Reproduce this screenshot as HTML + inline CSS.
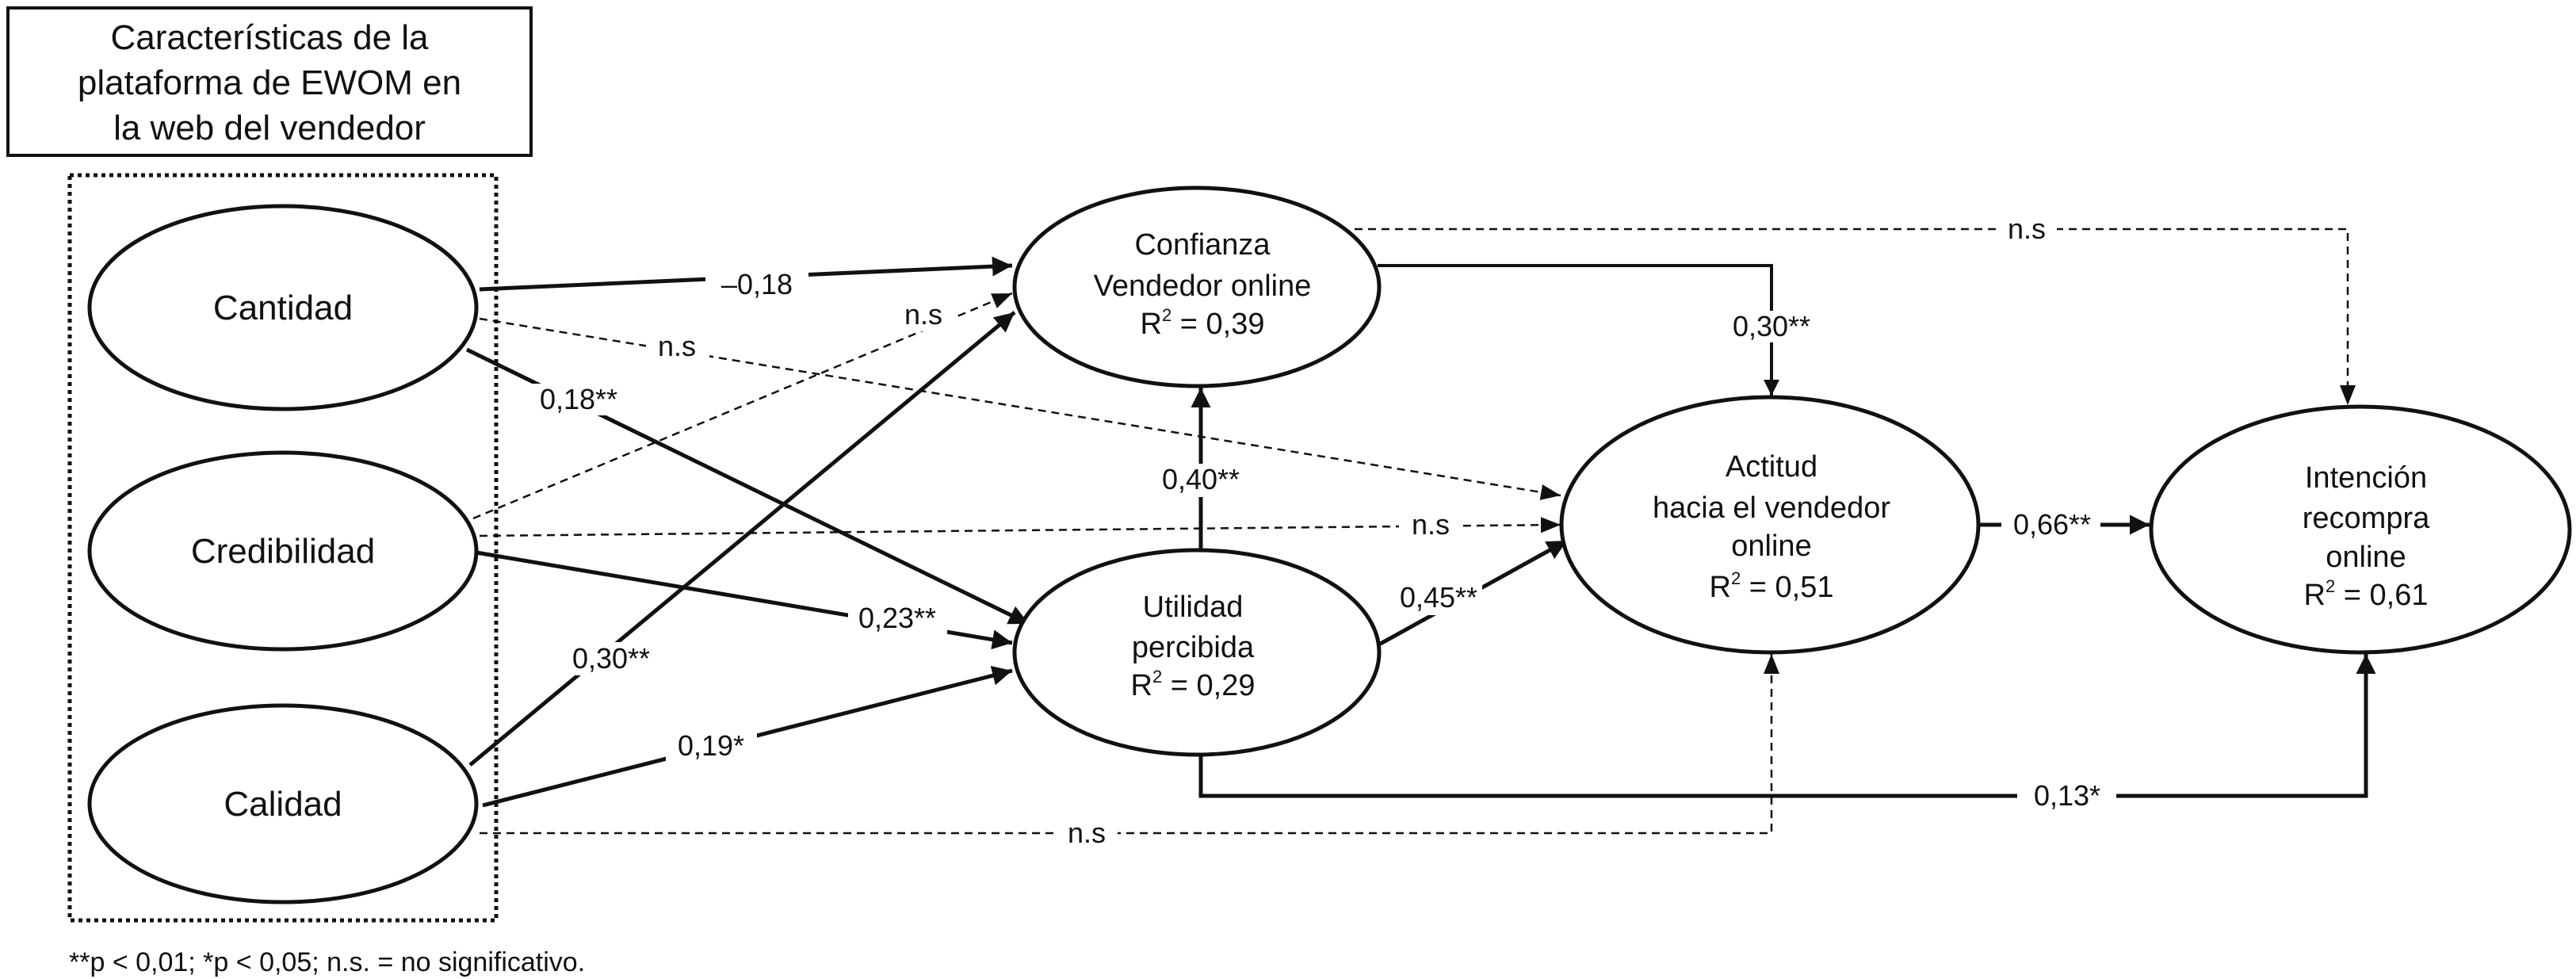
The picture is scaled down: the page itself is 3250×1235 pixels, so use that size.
<!DOCTYPE html>
<html><head><meta charset="utf-8"><style>
html,body{margin:0;padding:0;background:#fff}
svg{display:block}
text{font-family:"Liberation Sans",sans-serif;fill:#111}
</style></head><body>
<svg width="3250" height="1235" viewBox="0 0 3250 1235" xmlns="http://www.w3.org/2000/svg">
<defs>
<marker id="a" viewBox="0 0 10 10" refX="10" refY="5" markerWidth="5" markerHeight="5" markerUnits="strokeWidth" orient="auto"><path d="M0,0 L10,5 L0,10 z" fill="#111"/></marker>
<marker id="d" viewBox="0 0 10 10" refX="10" refY="5" markerWidth="10" markerHeight="10" markerUnits="strokeWidth" orient="auto"><path d="M0,1 L10,5 L0,9 z" fill="#111"/></marker>
</defs>
<rect x="10" y="10" width="660" height="186" fill="none" stroke="#111" stroke-width="4"/>
<g font-size="44" text-anchor="middle">
<text x="340" y="62">Características de la</text>
<text x="340" y="119">plataforma de EWOM en</text>
<text x="340" y="176">la web del vendedor</text>
</g>
<rect x="88" y="221" width="538" height="940" fill="none" stroke="#111" stroke-width="5" stroke-dasharray="5,5"/>
<text x="87" y="1225" font-size="34">**p &lt; 0,01; *p &lt; 0,05; n.s. = no significativo.</text>

<g fill="none" stroke="#111">
<!-- dashed -->
<g stroke-width="2.5" stroke-dasharray="10,7">
<polyline points="1709,289 2962,289 2962,511" marker-end="url(#d)"/>
<line x1="605" y1="402" x2="1969" y2="625" marker-end="url(#d)"/>
<line x1="605" y1="676" x2="1969" y2="662" marker-end="url(#d)"/>
<line x1="597" y1="654" x2="1277" y2="370" marker-end="url(#d)"/>
<polyline points="605,1051 2235,1051 2235,825" marker-end="url(#d)"/>
</g>
<!-- solid -->
<g stroke-width="5">
<line x1="605" y1="365" x2="1277" y2="335" marker-end="url(#a)"/>
<line x1="589" y1="441" x2="1298" y2="787" marker-end="url(#a)"/>
<line x1="601" y1="697" x2="1277" y2="811" marker-end="url(#a)"/>
<line x1="609" y1="1016" x2="1277" y2="846" marker-end="url(#a)"/>
<line x1="593" y1="965" x2="1280" y2="394" marker-end="url(#a)"/>
<line x1="1515" y1="694" x2="1515" y2="489" marker-end="url(#a)"/>
<line x1="1738" y1="814" x2="1977" y2="682" marker-end="url(#a)"/>
<line x1="2496" y1="662" x2="2712" y2="662" marker-end="url(#a)"/>
<polyline points="1515,952 1515,1004 2985,1004 2985,825" marker-end="url(#a)"/>
</g>
<polyline points="1738,335 2235,335 2235,499" stroke-width="4" marker-end="url(#a)"/>
</g>

<!-- nodes -->
<g fill="#fff" stroke="#111" stroke-width="5">
<ellipse cx="357" cy="388" rx="244" ry="128"/>
<ellipse cx="357" cy="695" rx="244" ry="124"/>
<ellipse cx="357" cy="1014" rx="244" ry="124"/>
<ellipse cx="1510" cy="362" rx="230" ry="125"/>
<ellipse cx="1510" cy="823" rx="230" ry="129"/>
<ellipse cx="2233" cy="662" rx="263" ry="161"/>
<ellipse cx="2978" cy="668" rx="264" ry="155"/>
</g>
<g font-size="44" text-anchor="middle">
<text x="357" y="403">Cantidad</text>
<text x="357" y="710">Credibilidad</text>
<text x="357" y="1029">Calidad</text>
</g>
<g font-size="38" text-anchor="middle">
<text x="1517" y="321">Confianza</text>
<text x="1517" y="373">Vendedor online</text>
<text x="1517" y="421">R<tspan font-size="22" dy="-16">2</tspan><tspan dy="16"> = 0,39</tspan></text>
<text x="1505" y="778">Utilidad</text>
<text x="1505" y="829">percibida</text>
<text x="1505" y="877">R<tspan font-size="22" dy="-16">2</tspan><tspan dy="16"> = 0,29</tspan></text>
<text x="2235" y="601">Actitud</text>
<text x="2235" y="653">hacia el vendedor</text>
<text x="2235" y="701">online</text>
<text x="2235" y="753">R<tspan font-size="22" dy="-16">2</tspan><tspan dy="16"> = 0,51</tspan></text>
<text x="2985" y="615">Intención</text>
<text x="2985" y="666">recompra</text>
<text x="2985" y="715">online</text>
<text x="2985" y="763">R<tspan font-size="22" dy="-16">2</tspan><tspan dy="16"> = 0,61</tspan></text>
</g>

<!-- edge labels -->
<g font-size="36" text-anchor="middle">
<rect x="890" y="335" width="130" height="44" fill="#fff"/><text x="955" y="371">–0,18</text>
<rect x="1125" y="378" width="80" height="40" fill="#fff"/><text x="1165" y="409">n.s</text>
<rect x="815" y="420" width="80" height="36" fill="#fff"/><text x="854" y="449">n.s</text>
<rect x="670" y="484" width="120" height="40" fill="#fff"/><text x="730" y="516">0,18**</text>
<rect x="1070" y="760" width="125" height="40" fill="#fff"/><text x="1132" y="792">0,23**</text>
<rect x="710" y="810" width="125" height="42" fill="#fff"/><text x="771" y="843">0,30**</text>
<rect x="840" y="920" width="115" height="40" fill="#fff"/><text x="897" y="953">0,19*</text>
<rect x="1455" y="585" width="125" height="42" fill="#fff"/><text x="1515" y="617">0,40**</text>
<rect x="1760" y="734" width="110" height="42" fill="#fff"/><text x="1815" y="766">0,45**</text>
<rect x="1765" y="644" width="80" height="36" fill="#fff"/><text x="1805" y="674">n.s</text>
<rect x="2175" y="392" width="120" height="40" fill="#fff"/><text x="2235" y="424">0,30**</text>
<rect x="2520" y="270" width="75" height="38" fill="#fff"/><text x="2557" y="301">n.s</text>
<rect x="2525" y="644" width="125" height="38" fill="#fff"/><text x="2589" y="674">0,66**</text>
<rect x="2545" y="985" width="125" height="40" fill="#fff"/><text x="2608" y="1016">0,13*</text>
<rect x="1330" y="1032" width="80" height="38" fill="#fff"/><text x="1371" y="1063">n.s</text>
</g>
</svg>
</body></html>
